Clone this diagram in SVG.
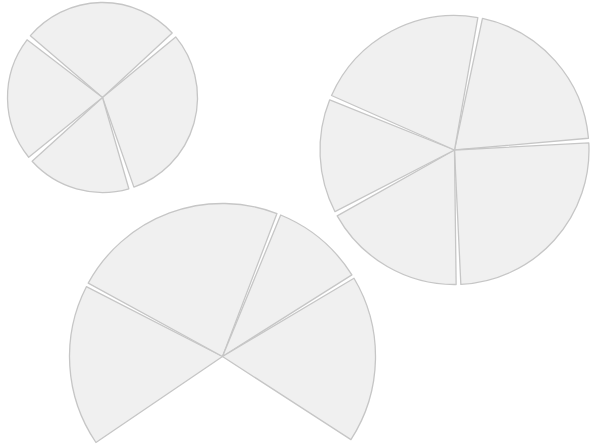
<svg xmlns="http://www.w3.org/2000/svg" width="591" height="448" viewBox="0 0 591 448">
<style>
.w{fill:#f0f0f0;stroke:#c6c6c6;stroke-width:1.3;stroke-linejoin:round}
</style>
<rect width="591" height="448" fill="#ffffff"/>
<g id="pie-small">
<path id="s1" class="w" d="M102.5,97.5 L30.37,35.67 A95,95 0 0 1 172.20,32.96 Z"/>
<path id="s2" class="w" d="M102.5,97.5 L175.70,36.95 A95,95 0 0 1 133.90,187.16 Z"/>
<path id="s3" class="w" d="M102.5,97.5 L128.84,188.78 A95,95 0 0 1 32.12,161.31 Z"/>
<path id="s4" class="w" d="M102.5,97.5 L28.68,157.28 A95,95 0 0 1 27.03,39.80 Z"/>
</g>
<g id="pie-large">
<path id="l1" class="w" d="M454.5,150 L482.46,18.44 A134.5,134.5 0 0 1 588.49,138.27 Z"/>
<path id="l2" class="w" d="M454.5,150 L588.81,142.97 A134.5,134.5 0 0 1 460.84,284.35 Z"/>
<path id="l3" class="w" d="M454.5,150 L456.14,284.49 A134.5,134.5 0 0 1 337.20,215.82 Z"/>
<path id="l4" class="w" d="M454.5,150 L334.98,211.68 A134.5,134.5 0 0 1 329.71,99.83 Z"/>
<path id="l5" class="w" d="M454.5,150 L331.53,95.51 A134.5,134.5 0 0 1 477.85,17.54 Z"/>
</g>
<g id="pie-partial">
<path id="p1" class="w" d="M222.5,356.5 L95.95,442.50 A153,153 0 0 1 86.38,286.69 Z"/>
<path id="p2" class="w" d="M222.5,356.5 L88.23,283.14 A153,153 0 0 1 276.95,213.52 Z"/>
<path id="p3" class="w" d="M222.5,356.5 L280.69,214.99 A153,153 0 0 1 351.89,274.86 Z"/>
<path id="p4" class="w" d="M222.5,356.5 L353.99,278.27 A153,153 0 0 1 350.94,439.61 Z"/>
</g>
<g id="connectors"/>
</svg>
